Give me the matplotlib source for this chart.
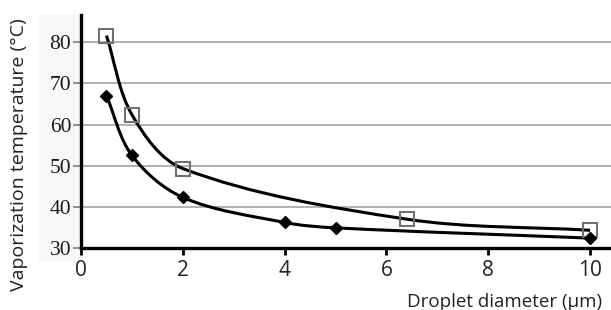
import numpy as np
import matplotlib
matplotlib.use("Agg")
import matplotlib.pyplot as plt
from matplotlib.path import Path
from matplotlib.patches import PathPatch, Rectangle

# values
square_x = [0.5, 1.0, 2.0, 6.4, 10.0]
square_y = [81.6, 62.4, 49.3, 37.0, 34.3]
diamond_x = [0.5, 1.0, 2.0, 4.0, 5.0, 10.0]
diamond_y = [67.0, 52.5, 42.3, 36.2, 34.9, 32.4]

xticks = [0, 2, 4, 6, 8, 10]
yticks = [30, 40, 50, 60, 70, 80]

# pixels per data unit, used so the smoothing works in screen space
SX, SY = 50.9, 4.12


def smooth_patch(xs, ys, **kw):
    # chord-length Catmull-Rom, drawn as cubic Bezier segments
    pts = np.column_stack([np.array(xs) * SX, np.array(ys) * SY])
    n = len(pts)
    t = np.concatenate([[0], np.cumsum(np.hypot(*np.diff(pts, axis=0).T))])
    m = np.zeros_like(pts)
    m[0] = (pts[1] - pts[0]) / (t[1] - t[0])
    m[-1] = (pts[-1] - pts[-2]) / (t[-1] - t[-2])
    for i in range(1, n - 1):
        m[i] = (pts[i + 1] - pts[i - 1]) / (t[i + 1] - t[i - 1])
    verts = [pts[0]]
    codes = [Path.MOVETO]
    for i in range(n - 1):
        dt = t[i + 1] - t[i]
        verts += [pts[i] + m[i] * dt / 3, pts[i + 1] - m[i + 1] * dt / 3, pts[i + 1]]
        codes += [Path.CURVE4] * 3
    verts = np.array(verts) / [SX, SY]
    return PathPatch(Path(verts, codes), facecolor="none", **kw)


fig = plt.figure(figsize=(6.11, 3.10), dpi=100)
W, H = 611, 310

# faint grey box behind the y tick labels
fig.patches.append(Rectangle((39 / W, 1 - 260 / H), 42 / W, 245 / H,
                             transform=fig.transFigure, color="#f8f8f8", zorder=-5))

ax = fig.add_axes([81 / W, 1 - 248 / H, (W - 81) / W, (248 - 15) / H])
ax.patch.set_alpha(0)

ax.set_xlim(0, 10.41)
ax.set_ylim(30, 86.6)

for y in yticks[1:]:
    ax.axhline(y, color="#b0b0b0", lw=1.4, zorder=1)

ax.add_patch(smooth_patch(square_x, square_y, edgecolor="black", lw=2.2, zorder=3))
ax.add_patch(smooth_patch(diamond_x, diamond_y, edgecolor="black", lw=2.2, zorder=3))

ax.plot(square_x, square_y, ls="none", marker="s", ms=9.5, mfc="none",
        mec="#707070", mew=1.5, zorder=4, clip_on=False)
ax.plot(diamond_x, diamond_y, ls="none", marker="D", ms=6, color="black",
        zorder=4, clip_on=False)

for s in ["top", "right"]:
    ax.spines[s].set_visible(False)
for s in ["left", "bottom"]:
    ax.spines[s].set_linewidth(2.4)
    ax.spines[s].set_color("black")

ax.set_xticks(xticks)
ax.set_yticks(yticks)
ax.set_xticklabels([str(v) for v in xticks], fontsize=15, family="Open Sans", color="#222222")
ax.set_yticklabels([str(v) for v in yticks], fontsize=15.5, family="Liberation Serif",
                   color="#1a1a1a")
ax.tick_params(axis="x", direction="out", length=5, width=2, pad=4)
ax.tick_params(axis="y", direction="out", length=6, width=1.4, color="#909090", pad=1)

fig.text(19 / W, 1 - 155 / H, "Vaporization temperature (°C)", rotation=90,
         ha="center", va="center", fontsize=14, family="Open Sans", color="#222222")
fig.text(602 / W, 1 - 302 / H, "Droplet diameter (µm)", ha="right", va="center",
         fontsize=13.5, family="Open Sans", color="#222222")

fig.savefig("out.png", dpi=100)
